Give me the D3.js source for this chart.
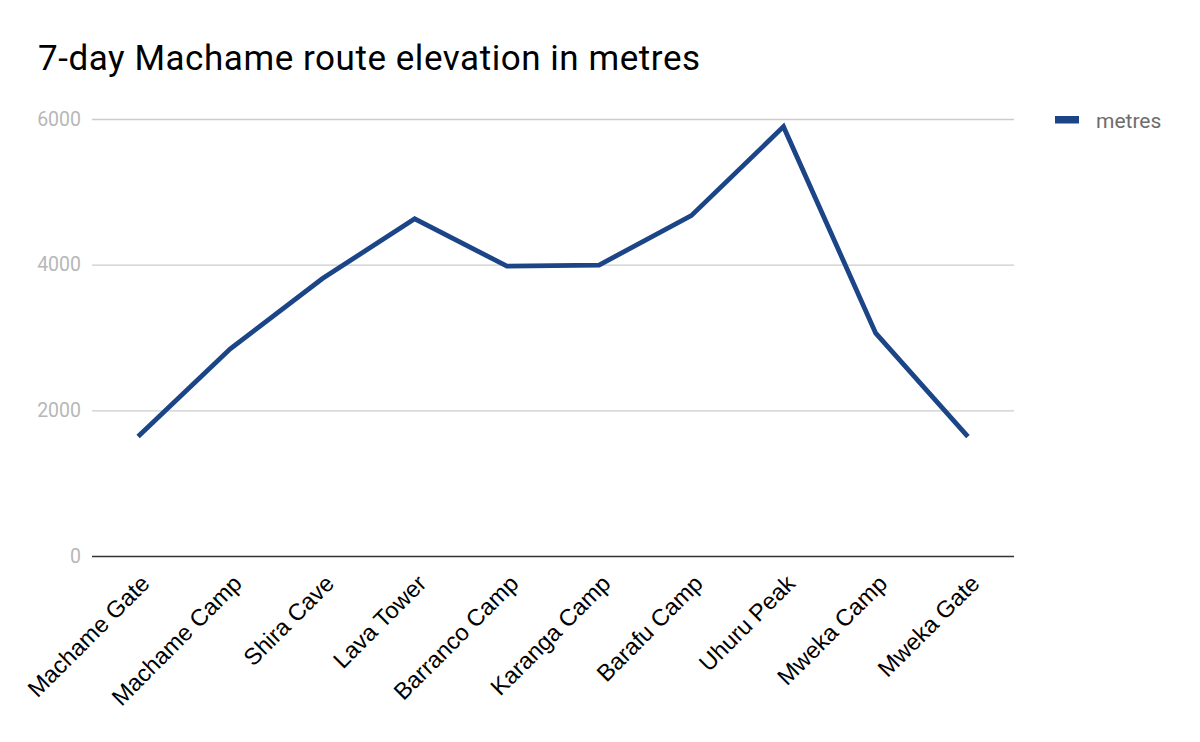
<!DOCTYPE html>
<html><head><meta charset="utf-8">
<script src="https://cdn.jsdelivr.net/npm/d3@7"></script>
<style>body{margin:0;background:#fff}</style>
</head><body>
<svg id="chart" width="1200" height="742"></svg>
<script>
const categories = ["Machame Gate","Machame Camp","Shira Cave","Lava Tower","Barranco Camp","Karanga Camp","Barafu Camp","Uhuru Peak","Mweka Camp","Mweka Gate"];
const metres = [1640, 2845, 3810, 4630, 3980, 3995, 4673, 5895, 3060, 1640];
const yTicks = [0, 2000, 4000, 6000];
const seriesName = "metres";
const title = "7-day Machame route elevation in metres";

(function(){
const svg = d3.select("#chart");
const pL = 92, pR = 1014, pT = 119, pB = 556;
const x = d3.scaleBand().domain(categories).range([pL, pR]);
const y = d3.scaleLinear().domain([0, 6000]).range([pB, pT]);

svg.append("rect").attr("width",1200).attr("height",742).attr("fill","#fff");

svg.append("text").attr("x",38).attr("y",70).text(title)
  .attr("font-family","Roboto").attr("font-size",35).attr("letter-spacing",0.55).attr("fill","#000");

const yAxis = d3.axisLeft(y).tickValues(yTicks).tickSize(-(pR-pL)).tickPadding(11).tickFormat(d3.format("d"));
const gy = svg.append("g").attr("transform",`translate(${pL},0)`).call(yAxis);
gy.select(".domain").remove();
gy.selectAll(".tick line").attr("stroke","#cccccc").attr("stroke-width",1.3);
gy.selectAll(".tick").filter(d=>d===0).select("line").attr("stroke","#333").attr("stroke-width",1.6);
gy.selectAll(".tick text").attr("font-family","Roboto").attr("font-size",19.5).attr("fill","#b7b7b7");

const xAxis = d3.axisBottom(x).tickSize(0).tickPadding(0);
const gx = svg.append("g").attr("transform",`translate(0,${pB})`).call(xAxis);
gx.select(".domain").remove();
gx.selectAll(".tick text")
  .attr("font-family","'Liberation Sans', Arial, sans-serif").attr("font-size",23.5).attr("fill","#000")
  .attr("text-anchor","end").attr("dy","0").attr("y",0)
  .attr("transform","translate(13,29) rotate(-45)");

const line = d3.line().x((d,i)=>x(categories[i])+x.bandwidth()/2).y(d=>y(d));
svg.append("path").datum(metres).attr("d",line).attr("fill","none")
  .attr("stroke","#1c4587").attr("stroke-width",4.8).attr("stroke-linejoin","miter");

svg.append("rect").attr("x",1055).attr("y",116).attr("width",24).attr("height",7.5).attr("fill","#1c4587");
svg.append("text").attr("x",1096).attr("y",127.5).text(seriesName)
  .attr("font-family","Roboto").attr("font-size",21).attr("fill","#6d6d6d");
})();
</script>
</body></html>
